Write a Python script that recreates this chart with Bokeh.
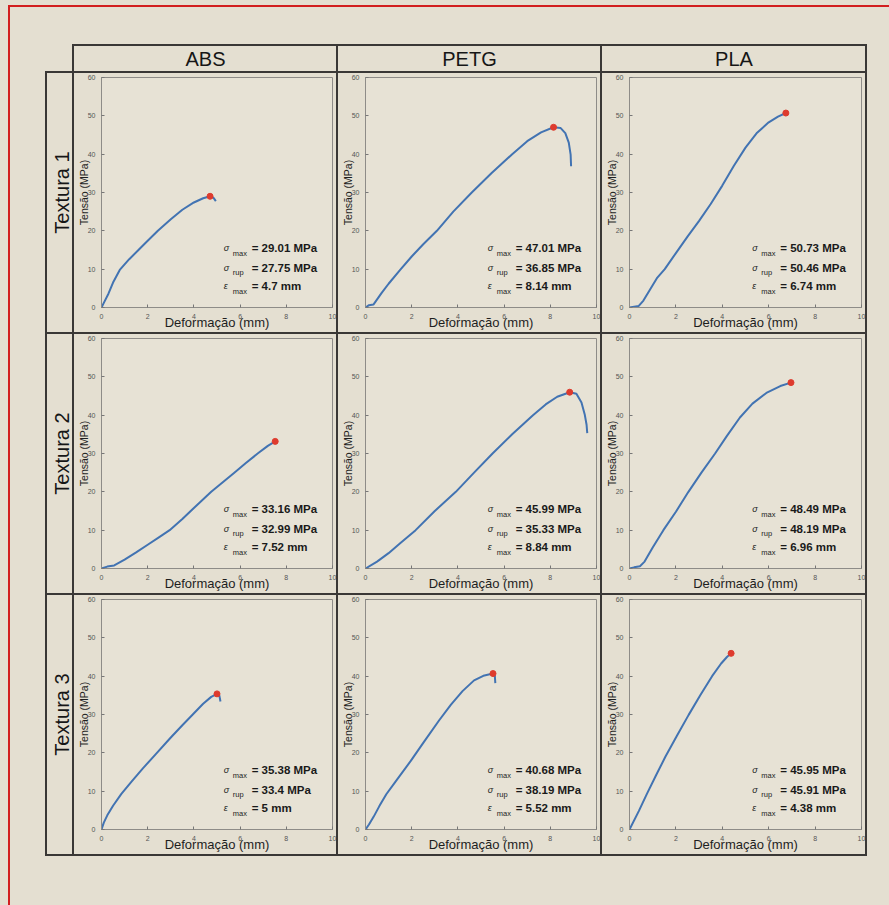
from bokeh.plotting import figure
from bokeh.layouts import row, column
from bokeh.models import Div, Range1d, ColumnDataSource, SingleIntervalTicker
from bokeh.core.properties import value
from bokeh.embed import file_html
from bokeh.resources import INLINE

# ---------------- data ----------------
materials = ["ABS", "PETG", "PLA"]
textures = ["Textura 1", "Textura 2", "Textura 3"]

abs_t1_x = [0, 0.1, 0.3, 0.5, 0.79, 1.2, 1.6, 2.0, 2.44, 3.0, 3.5, 4.0, 4.4, 4.7, 4.85, 4.95]
abs_t1_y = [0, 1.2, 3.6, 6.5, 9.8, 12.6, 15.0, 17.4, 20.0, 23.0, 25.5, 27.4, 28.5, 29.01, 28.6, 27.75]

petg_t1_x = [0, 0.15, 0.35, 0.7, 1.0, 1.5, 2.0, 2.5, 3.09, 3.8, 4.6, 5.45, 6.35, 7.0, 7.6, 8.14, 8.45, 8.65, 8.8, 8.88, 8.9]
petg_t1_y = [0, 0.6, 0.8, 3.8, 6.2, 9.8, 13.3, 16.5, 20.0, 25.0, 30.0, 35.0, 40.0, 43.4, 45.7, 47.01, 46.8, 45.5, 43.0, 39.9, 36.85]

pla_t1_x = [0, 0.2, 0.4, 0.6, 0.9, 1.2, 1.52, 2.0, 2.5, 3.0, 3.5, 4.0, 4.5, 5.0, 5.5, 6.0, 6.4, 6.74, 6.76]
pla_t1_y = [0, 0.2, 0.4, 1.8, 4.8, 7.8, 10.0, 14.2, 18.5, 22.6, 27.0, 31.8, 37.0, 41.7, 45.6, 48.3, 49.8, 50.73, 50.46]

abs_t2_x = [0, 0.25, 0.55, 1.0, 1.5, 2.0, 2.5, 2.95, 3.5, 4.0, 4.75, 5.25, 5.75, 6.25, 6.76, 7.2, 7.52, 7.56]
abs_t2_y = [0, 0.5, 0.8, 2.3, 4.2, 6.2, 8.2, 10.0, 12.9, 15.8, 20.0, 22.5, 25.0, 27.5, 30.0, 32.0, 33.16, 32.99]

petg_t2_x = [0, 0.5, 1.0, 1.5, 2.17, 3.0, 3.91, 4.7, 5.5, 6.35, 7.25, 7.8, 8.3, 8.84, 9.13, 9.35, 9.49, 9.57, 9.6]
petg_t2_y = [0, 1.8, 4.0, 6.6, 10.0, 15.0, 20.0, 25.0, 30.0, 35.0, 40.0, 42.8, 44.8, 45.99, 45.6, 43.3, 40.2, 37.5, 35.33]

pla_t2_x = [0, 0.2, 0.45, 0.65, 1.0, 1.46, 2.0, 2.54, 3.1, 3.69, 4.2, 4.76, 5.3, 5.9, 6.5, 6.96, 6.98]
pla_t2_y = [0, 0.3, 0.6, 1.8, 5.5, 10.0, 14.8, 20.0, 25.0, 30.0, 34.6, 39.4, 43.0, 45.8, 47.6, 48.49, 48.19]

abs_t3_x = [0, 0.1, 0.25, 0.5, 0.86, 1.3, 1.8, 2.37, 3.0, 3.5, 3.95, 4.4, 4.75, 5.0, 5.1, 5.15]
abs_t3_y = [0, 1.8, 3.7, 6.2, 9.3, 12.5, 16.0, 19.8, 24.0, 27.2, 30.0, 32.8, 34.6, 35.38, 35.0, 33.4]

petg_t3_x = [0, 0.15, 0.35, 0.6, 0.9, 1.3, 1.96, 2.5, 3.19, 3.7, 4.2, 4.7, 5.1, 5.52, 5.6, 5.62]
petg_t3_y = [0, 1.3, 3.3, 6.1, 9.2, 12.5, 17.9, 22.6, 28.5, 32.6, 36.1, 38.9, 40.1, 40.68, 40.0, 38.19]

pla_t3_x = [0, 0.4, 0.75, 1.15, 1.54, 2.05, 2.55, 3.05, 3.56, 3.95, 4.2, 4.38, 4.4]
pla_t3_y = [0, 4.8, 9.3, 14.2, 18.9, 24.5, 29.9, 35.0, 40.0, 43.3, 45.0, 45.95, 45.91]

curves = [
    [(abs_t1_x, abs_t1_y), (petg_t1_x, petg_t1_y), (pla_t1_x, pla_t1_y)],
    [(abs_t2_x, abs_t2_y), (petg_t2_x, petg_t2_y), (pla_t2_x, pla_t2_y)],
    [(abs_t3_x, abs_t3_y), (petg_t3_x, petg_t3_y), (pla_t3_x, pla_t3_y)],
]

sigma_max = [[29.01, 47.01, 50.73], [33.16, 45.99, 48.49], [35.38, 40.68, 45.95]]
sigma_rup = [[27.75, 36.85, 50.46], [32.99, 35.33, 48.19], [33.4, 38.19, 45.91]]
eps_max = [[4.7, 8.14, 6.74], [7.52, 8.84, 6.96], [5, 5.52, 4.38]]

# ---------------- style ----------------
BG = "#e4dfd1"
PLOT_BG = "#e7e2d5"
DARK = "#3a3836"
RED = "#d21f1f"
FRAME = "#8e8c88"
LINE = "#4273b2"
DOT = "#de3b2e"
FONT = "Liberation Sans"

COL_W = [262, 262, 263]
ROW_H = 259


def box(w, h, color):
    return Div(text="", width=w, height=h, margin=0,
               styles={"background-color": color})


def text_fig(w, h, txt, size, angle=0.0, xc=0.5):
    p = figure(width=w, height=h, x_range=Range1d(0, 1), y_range=Range1d(0, 1),
               x_axis_type=None, y_axis_type=None, toolbar_location=None,
               output_backend="svg", min_border=0, margin=0,
               background_fill_color=BG, border_fill_color=BG, outline_line_color=None)
    p.text(x=[xc], y=[0.5], text=[txt], angle=angle, text_align="center",
           text_baseline="middle", text_font=value(FONT), text_font_size=size,
           text_color="#161616")
    return p


def panel(r, c):
    xs, ys = curves[r][c]
    p = figure(width=COL_W[c], height=ROW_H, x_range=Range1d(0, 10), y_range=Range1d(0, 60),
               toolbar_location=None, output_backend="svg", margin=0,
               min_border_left=26, min_border_right=4, min_border_top=4, min_border_bottom=25,
               background_fill_color=PLOT_BG, border_fill_color=BG,
               outline_line_color=FRAME, outline_line_width=1,
               x_axis_label="Deformação (mm)", y_axis_label="Tensão (MPa)")
    p.grid.visible = False
    p.xaxis.ticker = SingleIntervalTicker(interval=2)
    p.yaxis.ticker = SingleIntervalTicker(interval=10)
    for ax in (p.xaxis + p.yaxis):
        ax.axis_line_color = FRAME
        ax.major_tick_in = 3
        ax.major_tick_out = 0
        ax.major_tick_line_color = "#777"
        ax.minor_tick_line_color = None
        ax.major_label_text_font = FONT
        ax.major_label_text_font_size = "7px"
        ax.major_label_text_color = "#555"
        ax.axis_label_text_font = FONT
        ax.axis_label_text_font_style = "normal"
        ax.axis_label_text_color = "#1e1e1e"
    xb, yl = p.below[0], p.left[0]
    xb.major_label_standoff = 2
    yl.major_label_standoff = 2
    xb.axis_label_standoff = -7
    yl.axis_label_standoff = -5
    xb.axis_label_text_font_size = "13px"
    yl.axis_label_text_font_size = "10.5px"

    p.line(xs, ys, line_color=LINE, line_width=2)
    p.scatter([eps_max[r][c]], [sigma_max[r][c]], size=6, color=DOT)

    src = ColumnDataSource(dict(
        y=[15.4, 10.4, 5.5],
        sym=["σ", "σ", "ε"],
        sub=["max", "rup", "max"],
        val=[f"= {sigma_max[r][c]:g} MPa", f"= {sigma_rup[r][c]:g} MPa", f"= {eps_max[r][c]:g} mm"],
    ))
    p.text(x=5.29, y="y", text="sym", source=src, text_font=value(FONT),
           text_font_size="9px", text_font_style="italic", text_baseline="middle",
           text_color="#222")
    p.text(x=5.68, y="y", text="sub", source=src, text_font=value(FONT),
           text_font_size="7.5px", text_baseline="middle", y_offset=5,
           text_color="#222")
    p.text(x=6.5, y="y", text="val", source=src, text_font=value(FONT),
           text_font_size="11.5px", text_font_style="bold", text_baseline="middle",
           text_color="#1a1a1a")
    return p


# ---------------- layout ----------------
MAIN_W = 879
bands = [box(MAIN_W, 5, BG), box(MAIN_W, 2, RED), box(MAIN_W, 37, BG)]
bands.append(row(box(62, 2, BG), box(795, 2, DARK)))
hdr = [box(62, 25, BG), box(2, 25, DARK)]
for c, m in enumerate(materials):
    hdr.append(text_fig(COL_W[c], 25, m, "20px"))
    hdr.append(box(2, 25, DARK))
bands.append(row(*hdr))
bands.append(row(box(35, 2, BG), box(822, 2, DARK)))
for r, t in enumerate(textures):
    cells = [box(35, ROW_H, BG), box(2, ROW_H, DARK),
             text_fig(25, ROW_H, t, "20px", angle=1.5707963, xc=0.56),
             box(2, ROW_H, DARK)]
    for c in range(3):
        cells.append(panel(r, c))
        cells.append(box(2, ROW_H, DARK))
    bands.append(row(*cells))
    bands.append(row(box(35, 2, BG), box(822, 2, DARK)))
bands.append(box(MAIN_W, 49, BG))
main = column(*bands)

left = column(box(2, 5, BG), box(2, 900, RED))
root = row(box(8, 905, BG), left, main, styles={"background-color": BG})

open("out.html", "w").write(file_html(root, INLINE))
